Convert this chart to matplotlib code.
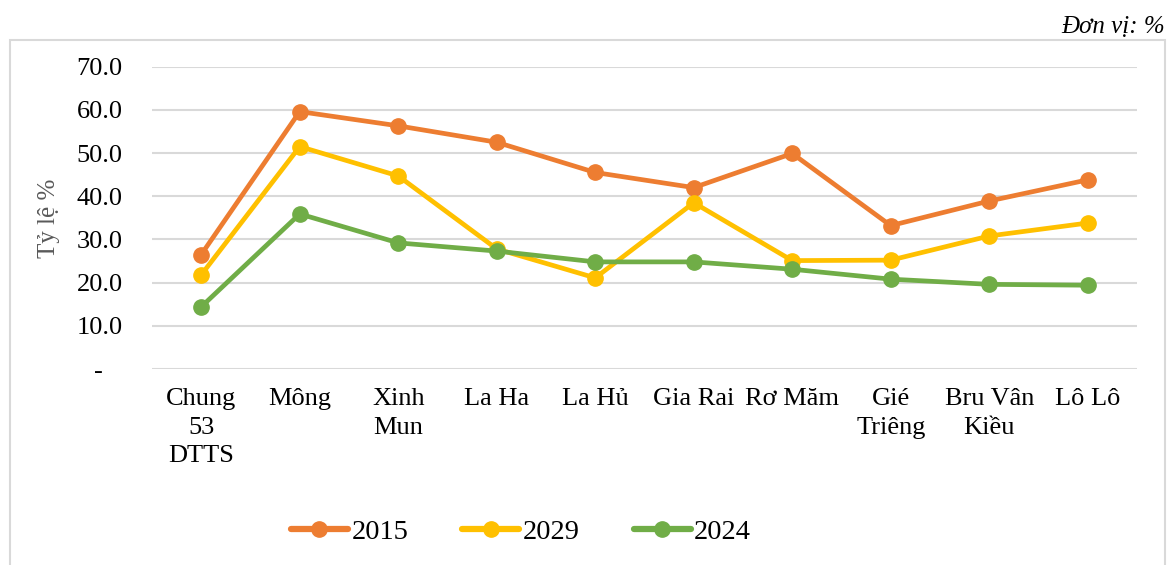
import matplotlib.pyplot as plt
from matplotlib.patches import Rectangle
from matplotlib.ticker import FuncFormatter

groups = ['Chung\n53\nDTTS', 'Mông', 'Xinh\nMun', 'La Ha', 'La Hủ',
          'Gia Rai', 'Rơ Măm', 'Gié\nTriêng', 'Bru Vân\nKiều', 'Lô Lô']
y2015 = [26.5, 59.6, 56.3, 52.5, 45.5, 42.0, 49.9, 33.2, 38.9, 43.8]
y2029 = [21.8, 51.5, 44.7, 27.8, 21.1, 38.5, 25.1, 25.2, 30.8, 33.8]
y2024 = [14.4, 35.9, 29.2, 27.3, 24.8, 24.8, 23.1, 20.8, 19.6, 19.4]
series_names = ['2015', '2029', '2024']
colors = ['#ED7D31', '#FFC000', '#70AD47']

plt.rcParams['font.family'] = ['Liberation Serif', 'DejaVu Serif']

fig = plt.figure(figsize=(11.7, 5.65), dpi=100)
ax = fig.add_axes([0.1299, 0.3469, 0.8419, 0.5351])

# outer chart frame
fig.patches.append(Rectangle((0.0085, -0.01), 0.987, 0.939, transform=fig.transFigure,
                             fill=False, edgecolor='#D9D9D9', linewidth=1.5))

x = list(range(len(groups)))
for vals, name, c in zip([y2015, y2029, y2024], series_names, colors):
    ax.plot(x, vals, color=c, linewidth=3.4, marker='o', markersize=11,
            label=name, solid_capstyle='round', zorder=3)

ax.set_xlim(-0.5, len(groups) - 0.5)
ax.set_ylim(0, 70)
ax.set_yticks(range(0, 71, 10))
ax.yaxis.set_major_formatter(FuncFormatter(lambda v, p: '-   ' if v == 0 else f'{v:.1f}'))
ax.set_xticks(x)
ax.set_xticklabels(groups, fontsize=19, linespacing=1.38, va='top')
ax.tick_params(axis='x', length=0, pad=14)
ax.tick_params(axis='y', length=0, pad=21, labelsize=19)
ax.grid(axis='y', color='#D9D9D9', linewidth=1.5)
ax.set_axisbelow(True)
for s in ax.spines.values():
    s.set_visible(False)

ax.set_ylabel('Tỷ lệ %', fontsize=18, color='#595959')
ax.yaxis.set_label_coords(-0.093, 0.5)

leg = ax.legend(loc='center', bbox_to_anchor=(521 / 1170, 1 - 532 / 565),
                bbox_transform=fig.transFigure, ncol=3, frameon=False, fontsize=20.5,
                handlelength=2.0, handletextpad=0.12, columnspacing=1.9)
for h in leg.legend_handles:
    h.set_linewidth(4.5)

fig.text(0.996, 0.952, 'Đơn vị: %', ha='right', va='center', fontsize=18, style='italic')

fig.savefig('out.png', dpi=100)
